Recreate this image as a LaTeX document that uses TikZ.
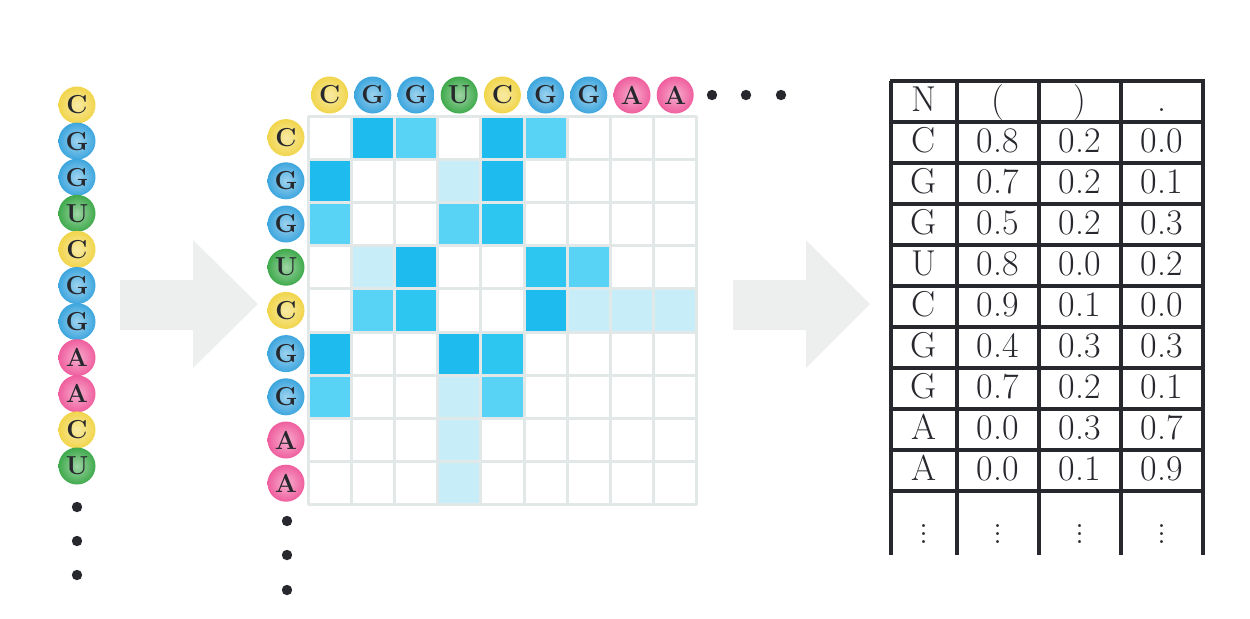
\documentclass[tikz,border=0pt]{standalone}
\usepackage{amsmath}
\definecolor{ink}{HTML}{26282D}
\definecolor{nucY}{HTML}{F1D54B}
\definecolor{nucB}{HTML}{3DA6DE}
\definecolor{nucG}{HTML}{3FAA4C}
\definecolor{nucP}{HTML}{EF5E9E}
\definecolor{pairD}{HTML}{1EBBEF}
\definecolor{pairM}{HTML}{2DC6F1}
\definecolor{pairL}{HTML}{59D3F5}
\definecolor{pairP}{HTML}{C7EDF9}
\definecolor{gridgray}{HTML}{E2E7E7}
\definecolor{arrowgray}{HTML}{EDEFEE}

\begin{document}
\begin{tikzpicture}[x=0.5pt,y=-0.5pt,
  nuc/.style={circle,minimum size=18.5pt,inner sep=0pt,inner color=#1!50!white,outer color=#1,text=ink,font=\fontsize{13}{14}\selectfont\bfseries},
  cellnum/.style={font=\fontsize{18}{20}\selectfont,text=ink,text height=14pt,text depth=4pt,inner sep=0pt},
  celldots/.style={font=\fontsize{18}{20}\selectfont,text=ink,inner sep=0pt}]
\useasboundingbox (0,0) rectangle (1250,618);

% sequence on the left
\foreach \b/\col [count=\i] in {C/nucY,G/nucB,G/nucB,U/nucG,C/nucY,G/nucB,G/nucB,A/nucP,A/nucP,C/nucY,U/nucG}
  \node[nuc=\col] (s\i) at (77,{105+(\i-1)*36.1}) {\b};
\fill [ink] (77,507) circle (2.6pt);
\fill [ink] (77,541) circle (2.6pt);
\fill [ink] (77,575) circle (2.6pt);

% big arrows
\fill [arrowgray] (120,280) -- (193,280) -- (193,240) -- (258,304) -- (193,368) -- (193,330) -- (120,330) -- cycle;
\fill [arrowgray] (733,280) -- (806,280) -- (806,240) -- (870,304) -- (806,368) -- (806,330) -- (733,330) -- cycle;

% pairing matrix
\foreach \c/\r/\col in {2/1/pairD,5/1/pairD,1/2/pairD,5/2/pairD,3/4/pairD,6/5/pairD,1/6/pairD,4/6/pairD,
  5/3/pairM,6/4/pairM,3/5/pairM,5/6/pairM,
  3/1/pairL,6/1/pairL,1/3/pairL,4/3/pairL,7/4/pairL,2/5/pairL,1/7/pairL,5/7/pairL,
  4/2/pairP,2/4/pairP,7/5/pairP,8/5/pairP,9/5/pairP,4/7/pairP,4/8/pairP,4/9/pairP}
  \fill [\col] ({308+(\c-1)*43.2},{116+(\r-1)*43.2}) rectangle +(43.2,43.2);
\foreach \k in {0,...,9} {
  \draw [gridgray,line width=1.5pt] ({308+\k*43.2},116) -- ({308+\k*43.2},504.8);
  \draw [gridgray,line width=1.5pt] (308,{116+\k*43.2}) -- (696.8,{116+\k*43.2});
}
\foreach \b/\col [count=\i] in {C/nucY,G/nucB,G/nucB,U/nucG,C/nucY,G/nucB,G/nucB,A/nucP,A/nucP} {
  \node[nuc=\col] (c\i) at ({329.6+(\i-1)*43.2},95) {\b};
  \node[nuc=\col] (r\i) at (286,{137.6+(\i-1)*43.2}) {\b};
}
\fill [ink] (712,95) circle (2.6pt);
\fill [ink] (746,95) circle (2.6pt);
\fill [ink] (781,95) circle (2.6pt);
\fill [ink] (287,521) circle (2.6pt);
\fill [ink] (287,555) circle (2.6pt);
\fill [ink] (287,590) circle (2.6pt);

% probability table
\foreach \x in {891,957,1039,1121,1203}
  \draw [ink,line width=2pt] (\x,81) -- (\x,555);
\foreach \k in {0,...,10}
  \draw [ink,line width=2pt] (890,{81+\k*41}) -- (1205,{81+\k*41});
\node[cellnum] (hN) at (924,101.5) {N};
\node[cellnum] (hO) at (998,101.5) {(};
\node[cellnum] (hC) at (1080,101.5) {)};
\node[cellnum] (hD) at (1162,101.5) {.};
\foreach \n/\p/\q/\u [count=\r] in {C/0.8/0.2/0.0,G/0.7/0.2/0.1,G/0.5/0.2/0.3,U/0.8/0.0/0.2,C/0.9/0.1/0.0,
  G/0.4/0.3/0.3,G/0.7/0.2/0.1,A/0.0/0.3/0.7,A/0.0/0.1/0.9} {
  \node[cellnum] (t\r-1) at (924,{142.5+(\r-1)*41}) {\n};
  \node[cellnum] (t\r-2) at (998,{142.5+(\r-1)*41}) {\p};
  \node[cellnum] (t\r-3) at (1080,{142.5+(\r-1)*41}) {\q};
  \node[cellnum] (t\r-4) at (1162,{142.5+(\r-1)*41}) {\u};
}
\node[celldots] (v1) at (924,528) {$\vdots$};
\node[celldots] (v2) at (998,528) {$\vdots$};
\node[celldots] (v3) at (1080,528) {$\vdots$};
\node[celldots] (v4) at (1162,528) {$\vdots$};
\end{tikzpicture}
\end{document}
